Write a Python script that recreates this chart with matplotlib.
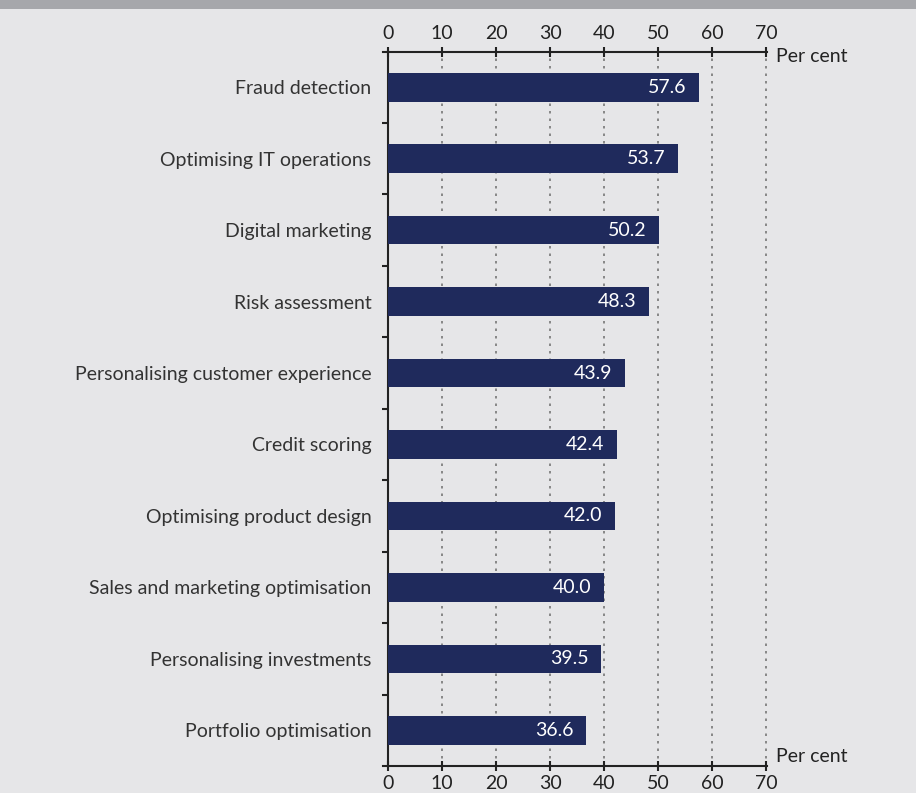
import matplotlib.pyplot as plt
import numpy as np

categories = ['Fraud detection', 'Optimising IT operations', 'Digital marketing',
              'Risk assessment', 'Personalising customer experience', 'Credit scoring',
              'Optimising product design', 'Sales and marketing optimisation',
              'Personalising investments', 'Portfolio optimisation']
values = [57.6, 53.7, 50.2, 48.3, 43.9, 42.4, 42.0, 40.0, 39.5, 36.6]
x_ticks = [0, 10, 20, 30, 40, 50, 60, 70]
unit_label = 'Per cent'

plt.rcParams['font.family'] = ['Lato', 'DejaVu Sans']

W, H = 916, 793
bg = '#e6e6e8'
navy = '#1f2a5c'
txt = '#333333'
fs = 14

fig = plt.figure(figsize=(W / 100, H / 100), dpi=100, facecolor=bg)
fig.add_artist(plt.Rectangle((0, 1 - 9 / H), 1, 9 / H, transform=fig.transFigure,
                             color='#a6a7ab', lw=0))

# axes box in pixels: x from -1 to 70.25 (5.4 px per unit), y from 51.5 to 766
left, right, top, bottom = 382.6, 767.35, 51.5, 766
ax = fig.add_axes([left / W, 1 - bottom / H, (right - left) / W, (bottom - top) / H])
ax.set_facecolor('none')

n = len(categories)
y = np.arange(n)
ax.barh(y, values, height=0.4, color=navy, zorder=3)
for yi, v in zip(y, values):
    ax.annotate(f'{v:.1f}', (v, yi), xytext=(-9, 0), textcoords='offset points',
                ha='right', va='center', color='white', fontsize=fs, zorder=4)

ax.set_xlim(-1, 70.25)
ax.set_ylim(n - 0.5, -0.5)

ax.set_xticks(x_ticks)
ax.xaxis.grid(True, linestyle=(0, (1.5, 3)), color='#777777', linewidth=1.2, zorder=0)
ax.tick_params(axis='x', direction='inout', length=7, width=1.5, color='#222222',
               top=True, labeltop=True, bottom=True, labelbottom=True,
               labelsize=fs, labelcolor='#222222', pad=3)

ax.set_yticks(y)
ax.set_yticklabels(categories)
ax.set_yticks(np.arange(0.5, n - 1, 1), minor=True)
ax.tick_params(axis='y', which='major', length=0, pad=12, labelsize=fs, labelcolor=txt)
ax.tick_params(axis='y', which='minor', direction='out', length=4, width=1.5, color='#222222')

for s in ['top', 'bottom', 'left']:
    ax.spines[s].set_linewidth(1.5)
    ax.spines[s].set_color('#222222')
ax.spines['left'].set_position(('data', 0))
ax.spines['right'].set_visible(False)

fig.text(776 / W, 1 - 57 / H, unit_label, ha='left', va='center', fontsize=fs, color='#222222')
fig.text(776 / W, 1 - 756 / H, unit_label, ha='left', va='center', fontsize=fs, color='#222222')

fig.savefig('out.png', dpi=100, facecolor=bg)
